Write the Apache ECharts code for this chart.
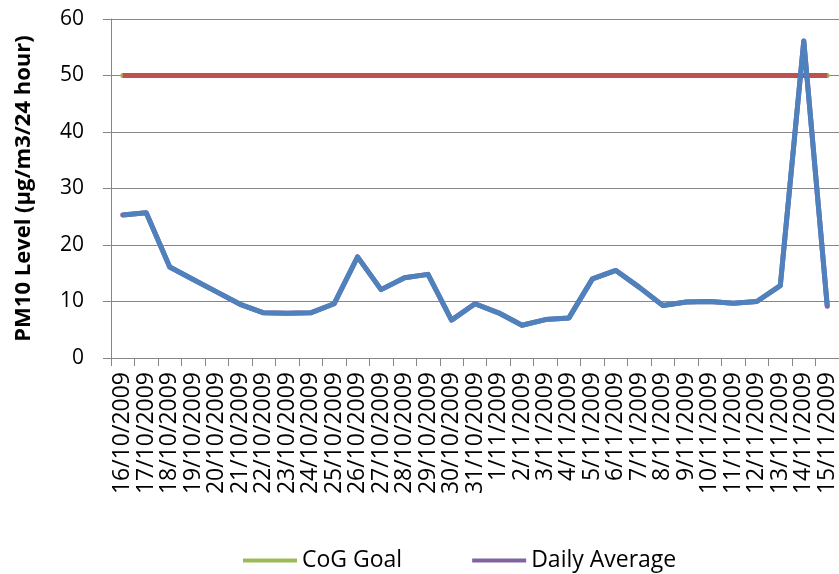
<!DOCTYPE html>
<html>
<head>
<meta charset="utf-8">
<script src="https://cdn.jsdelivr.net/npm/echarts@6/dist/echarts.min.js"></script>
<style>
html,body{margin:0;padding:0;background:#fff;}
#chart{width:839px;height:574px;}
</style>
</head>
<body>
<div id="chart"></div>
<script>
var dates = ['16/10/2009','17/10/2009','18/10/2009','19/10/2009','20/10/2009','21/10/2009','22/10/2009','23/10/2009','24/10/2009','25/10/2009','26/10/2009','27/10/2009','28/10/2009','29/10/2009','30/10/2009','31/10/2009','1/11/2009','2/11/2009','3/11/2009','4/11/2009','5/11/2009','6/11/2009','7/11/2009','8/11/2009','9/11/2009','10/11/2009','11/11/2009','12/11/2009','13/11/2009','14/11/2009','15/11/2009'];
var dailyAverage = [25.3, 25.7, 16.1, 13.9, 11.7, 9.5, 8.0, 7.9, 8.0, 9.6, 17.9, 12.1, 14.2, 14.8, 6.7, 9.6, 8.0, 5.8, 6.8, 7.1, 14.0, 15.5, 12.5, 9.3, 9.9, 10.0, 9.7, 10.0, 12.8, 56.1, 9.15];
var cogGoal = [50,50,50,50,50,50,50,50,50,50,50,50,50,50,50,50,50,50,50,50,50,50,50,50,50,50,50,50,50,50,50];
var yTicks = {min: 0, max: 60, interval: 10};
var yTitle = 'PM10 Level (µg/m3/24 hour)';

var font = '"Open Sans", "Liberation Sans", sans-serif';
var chart = echarts.init(document.getElementById('chart'), null, {renderer: 'canvas'});
chart.setOption({
  animation: false,
  backgroundColor: '#fff',
  grid: {left: 111, top: 19, width: 728, height: 339, containLabel: false},
  legend: {
    data: [{name: 'CoG Goal', icon: 'rect'}, {name: 'Daily Average', icon: 'rect'}],
    left: 238, top: 544,
    itemWidth: 54, itemHeight: 4, itemGap: 70,
    textStyle: {fontFamily: font, fontSize: 23, color: '#000'}
  },
  xAxis: {
    type: 'category',
    data: dates,
    boundaryGap: true,
    axisLine: {lineStyle: {color: '#868686', width: 1}},
    axisTick: {show: true, length: 8, inside: false, lineStyle: {color: '#868686'}},
    axisLabel: {rotate: 90, interval: 0, margin: 14, fontFamily: font, fontSize: 23, color: '#000'},
    splitLine: {show: false}
  },
  yAxis: {
    type: 'value',
    min: yTicks.min, max: yTicks.max, interval: yTicks.interval,
    name: yTitle,
    nameLocation: 'middle',
    nameGap: 76,
    nameTextStyle: {fontFamily: font, fontSize: 22, fontWeight: 'bold', color: '#000'},
    axisLine: {show: true, lineStyle: {color: '#868686', width: 1}},
    axisTick: {show: true, length: 8, lineStyle: {color: '#868686'}},
    axisLabel: {margin: 27, fontFamily: font, fontSize: 21, color: '#000'},
    splitLine: {show: true, lineStyle: {color: '#868686', width: 1}}
  },
  series: [
    {name: 'CoG Goal', type: 'line', data: cogGoal, showSymbol: false, symbol: 'none', color: '#9BBB59',
     lineStyle: {color: '#9BBB59', width: 5, cap: 'round'}, z: 2},
    {name: 'CoG Goal overlay', type: 'line', data: cogGoal, showSymbol: false, symbol: 'none', color: '#C0504D',
     lineStyle: {color: '#C0504D', width: 5, cap: 'butt'}, z: 3},
    {name: 'Daily Average', type: 'line', data: dailyAverage, showSymbol: false, symbol: 'none', color: '#8064A2',
     lineStyle: {color: '#8064A2', width: 5, cap: 'round', join: 'round'}, z: 4},
    {name: 'Daily Average overlay', type: 'line', data: dailyAverage, showSymbol: false, symbol: 'none', color: '#4F81BD',
     lineStyle: {color: '#4F81BD', width: 5, cap: 'butt', join: 'round'}, z: 5}
  ]
});
</script>
</body>
</html>
